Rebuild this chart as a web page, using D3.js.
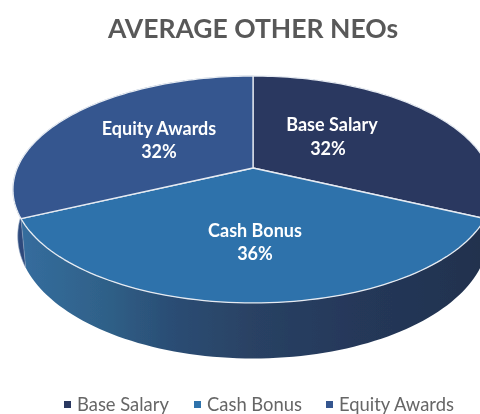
<!DOCTYPE html>
<html><head><meta charset="utf-8">
<script src="https://cdn.jsdelivr.net/npm/d3@7/dist/d3.min.js"></script>
<style>html,body{margin:0;padding:0;background:#fff;overflow:hidden}svg{display:block}</style>
</head><body><div id="c"></div>
<script>
const categories = ["Base Salary","Cash Bonus","Equity Awards"];
const values = [32,36,32];
const topColors = ["#2b3860","#2e72ab","#34568f"];
const sideColors = ["#22324e","url(#cashSide)","#2d4a7c"];
const titleText = "AVERAGE OTHER NEOs";

const W=480,H=414;
const cx=253,cy=168,Rx=235.7,Ry=109.4,persp=0.1894,depth=45;
const svg=d3.select("#c").append("svg").attr("width",W).attr("height",H);
const defs=svg.append("defs");
defs.append("filter").attr("id","soft").attr("x","-5%").attr("y","-5%").attr("width","110%").attr("height","110%")
  .append("feGaussianBlur").attr("stdDeviation",0.5);
const g=defs.append("linearGradient").attr("id","cashSide").attr("gradientUnits","userSpaceOnUse")
  .attr("x1",20).attr("x2",480).attr("y1",0).attr("y2",0);
[[0,"#356d9e"],[0.18,"#2f6189"],[0.33,"#2b4d74"],[0.5,"#294264"],[0.72,"#25385a"],[1,"#22324e"]]
  .forEach(([o,c])=>g.append("stop").attr("offset",o).attr("stop-color",c));

function project(a,bottom){
  const u=Math.sin(a),w=Math.cos(a),s=1/(1+persp*w);
  const x=Rx*u*s,y=-Ry*w*s;
  return bottom?[cx+x*0.98,cy+y+depth*s]:[cx+x,cy+y];
}
const arcs=d3.pie().sort(null).value(d=>d)(values);
const line=d3.line();
function samples(a0,a1){return d3.range(0,81).map(i=>a0+(a1-a0)*i/80);}

const root=svg.append("g").attr("filter","url(#soft)");

root.selectAll("path.side").data(arcs).join("path").attr("class","side")
  .attr("fill",(d,i)=>sideColors[i])
  .attr("stroke",(d,i)=>i==2?"#8ea3c0":"none").attr("stroke-width",0.6)
  .attr("d",d=>{
    const s=samples(d.startAngle,d.endAngle);
    return line([...s.map(a=>project(a,false)),...s.slice().reverse().map(a=>project(a,true))])+"Z";
  });

root.selectAll("path.top").data(arcs).join("path").attr("class","top")
  .attr("fill",(d,i)=>topColors[i])
  .attr("stroke","#e6ebf2").attr("stroke-width",1.3).attr("stroke-linejoin","round")
  .attr("d",d=>line([[cx,cy],...samples(d.startAngle,d.endAngle).map(a=>project(a,false))])+"Z");

const font="Lato, 'Open Sans', sans-serif";
root.append("text").attr("x",253).attr("y",38).attr("text-anchor","middle")
  .attr("font-family",font).attr("font-weight",700).attr("font-size",26.5).attr("fill","#595959").text(titleText);

const labelPos=[[332,125],[255,231],[159,129]];
const labelPctPos=[[328,149],[255,254],[159,152]];
const lbl=root.append("g").attr("font-family",font).attr("font-weight",700).attr("font-size",18)
  .attr("fill","#fff").attr("text-anchor","middle");
categories.forEach((c,i)=>{
  lbl.append("text").attr("x",labelPos[i][0]).attr("y",labelPos[i][1]+6).text(c);
  lbl.append("text").attr("x",labelPctPos[i][0]).attr("y",labelPctPos[i][1]+6).text(values[i]+"%");
});

const legendX=[64,194,326];
const leg=root.append("g");
categories.forEach((c,i)=>{
  leg.append("rect").attr("x",legendX[i]).attr("y",401).attr("width",7).attr("height",7).attr("fill",topColors[i]);
  leg.append("text").attr("x",legendX[i]+13).attr("y",411).attr("font-family",font)
    .attr("font-size",18.4).attr("fill","#666").text(c);
});
</script></body></html>
